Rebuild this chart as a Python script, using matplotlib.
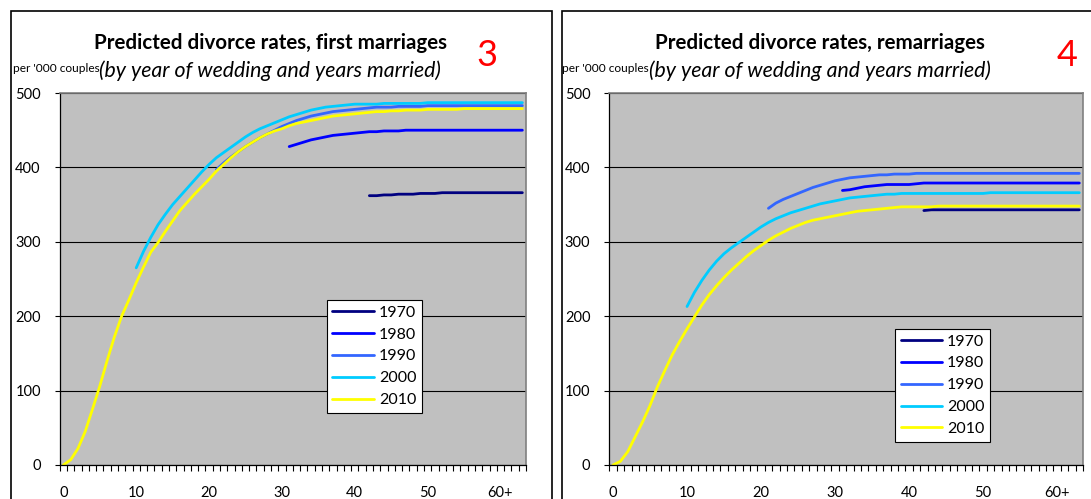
import matplotlib
matplotlib.use('Agg')
import matplotlib.pyplot as plt
from matplotlib.patches import Rectangle
from matplotlib.ticker import MultipleLocator, FixedLocator

plt.rcParams['font.family'] = ['Lato', 'DejaVu Sans']

###############################################################################
# data (per '000 couples, by years married)
years_married = list(range(64))
tick_pos = [0, 10, 20, 30, 40, 50, 60]
tick_labels = ['0', '10', '20', '30', '40', '50', '60+']
cohorts = ['1970', '1980', '1990', '2000', '2010']
start_year = [42, 31, 21, 10, 0]

# first marriages
fm_1970 = [362, 362, 363, 363, 364, 364, 364, 365, 365, 365] + [366] * 12
fm_1980 = [428, 431, 434, 437, 439, 441, 443, 444, 445, 446, 447, 448, 448, 449, 449, 449] + [450] * 17
fm_1990 = [397, 406, 414, 421, 428, 434, 440, 445, 450,
           455, 459, 463, 466, 469, 471, 473, 475, 476, 477,
           478, 479, 480, 481, 481, 481, 482, 482, 482, 482] + [483] * 14
fm_2000 = [265, 287, 306, 323, 337, 350, 361, 372, 383, 394,
           404, 413, 420, 427, 434, 441, 447, 452, 456, 460,
           464, 468, 471, 474, 477, 479, 481, 482, 483, 484,
           485, 485, 485, 485, 486, 486, 486, 486, 486, 486] + [487] * 14
fm_2010 = [0, 7, 22, 45, 75, 106, 140, 172, 200, 222,
           245, 266, 286, 299, 314, 328, 342, 353, 364, 374,
           384, 395, 404, 413, 421, 428, 434, 440, 445, 449,
           452, 456, 459, 461, 463, 465, 467, 469, 470, 471,
           472, 473, 474, 475, 475, 476, 476, 477, 477, 477] + [478] * 5 + [479] * 9

# remarriages
rm_1970 = [342] + [343] * 21
rm_1980 = [369, 370, 372, 374, 375, 376, 377, 377, 377, 377, 378] + [379] * 22
rm_1990 = [345, 352, 357, 361, 365, 369, 373, 376, 379,
           382, 384, 386, 387, 388, 389, 390, 390, 391, 391, 391] + [392] * 23
rm_2000 = [213, 232, 248, 262, 274, 284, 292, 299, 306, 313,
           320, 326, 331, 335, 339, 342, 345, 348, 351, 353,
           355, 357, 359, 360, 361, 362, 363, 364, 364, 365] + [365] * 11 + [366] * 13
rm_2010 = [0, 5, 18, 38, 58, 80, 105, 127, 148, 166,
           183, 199, 215, 229, 241, 252, 262, 271, 280, 288,
           295, 302, 308, 313, 318, 322, 326, 329, 331, 333,
           335, 337, 339, 341, 342, 343, 344, 345, 346, 347,
           347, 347, 347, 347] + [348] * 20
###############################################################################

colors = ['#000080', '#0000FF', '#3366FF', '#00CCFF', '#FFFF00']

fig = plt.figure(figsize=(10.91, 4.99), dpi=100)
W, H = 1091, 499

# chart frames
for x0, x1 in [(10.7, 552), (561.7, 1100)]:
    fig.patches.append(Rectangle((x0 / W, -0.1), (x1 - x0) / W, 1.1 - 11 / H,
                                 transform=fig.transFigure, fill=False,
                                 edgecolor='black', linewidth=1.2))

panels = [
    dict(pos=[59.7 / W, 34 / H, 466.3 / W, 372 / H],
         series=[fm_1970, fm_1980, fm_1990, fm_2000, fm_2010],
         title='Predicted divorce rates, first marriages', cx=270, num='3', nx=487,
         leg=(0.573, 0.4435)),
    dict(pos=[609.3 / W, 34 / H, 473.7 / W, 372 / H],
         series=[rm_1970, rm_1980, rm_1990, rm_2000, rm_2010],
         title='Predicted divorce rates, remarriages', cx=820, num='4', nx=1067,
         leg=(0.603, 0.366)),
]

for p in panels:
    ax = fig.add_axes(p['pos'])
    ax.set_facecolor('#C0C0C0')
    for s, c, name, st in zip(p['series'], colors, cohorts, start_year):
        ax.plot(years_married[st:st + len(s)], s, color=c, lw=2.0, label=name,
                solid_capstyle='round')
    ax.set_xlim(-0.5, 63.5)
    ax.set_ylim(0, 500)
    ax.yaxis.set_major_locator(MultipleLocator(100))
    ax.grid(axis='y', color='black', lw=0.8)
    ax.set_axisbelow(True)
    ax.xaxis.set_major_locator(FixedLocator(tick_pos))
    ax.set_xticklabels(tick_labels)
    ax.xaxis.set_minor_locator(FixedLocator([i - 0.5 for i in range(65)]))
    ax.tick_params(axis='x', which='major', length=0, pad=15, labelsize=10.5)
    ax.tick_params(axis='x', which='minor', length=4, width=0.8, direction='out')
    ax.tick_params(axis='y', length=3.6, width=0.8, labelsize=10.5, pad=10)
    for side in ['top', 'right']:
        ax.spines[side].set_color('#808080')
        ax.spines[side].set_linewidth(1.2)
    for side in ['left', 'bottom']:
        ax.spines[side].set_color('black')
        ax.spines[side].set_linewidth(0.9)
    leg = ax.legend(loc='upper left', bbox_to_anchor=p['leg'], fontsize=11.5,
                    handlelength=2.6, labelspacing=0.48, borderpad=0.35,
                    handletextpad=0.3, fancybox=False, framealpha=1,
                    edgecolor='black', borderaxespad=0)
    leg.get_frame().set_linewidth(0.8)

    x0 = p['pos'][0] * W
    fig.text(p['cx'] / W, 1 - 49 / H, p['title'], ha='center', va='baseline',
             fontsize=14.8, fontweight='bold')
    fig.text(p['cx'] / W, 1 - 77 / H, '(by year of wedding and years married)',
             ha='center', va='baseline', fontsize=15.3, style='italic')
    fig.text((x0 - 47) / W, 1 - 72 / H, "per '000 couples", ha='left',
             va='baseline', fontsize=8.6)
    fig.text(p['nx'] / W, 1 - 66 / H, p['num'], ha='center', va='baseline',
             fontsize=26, color='red')

fig.savefig('out.png', dpi=100)
